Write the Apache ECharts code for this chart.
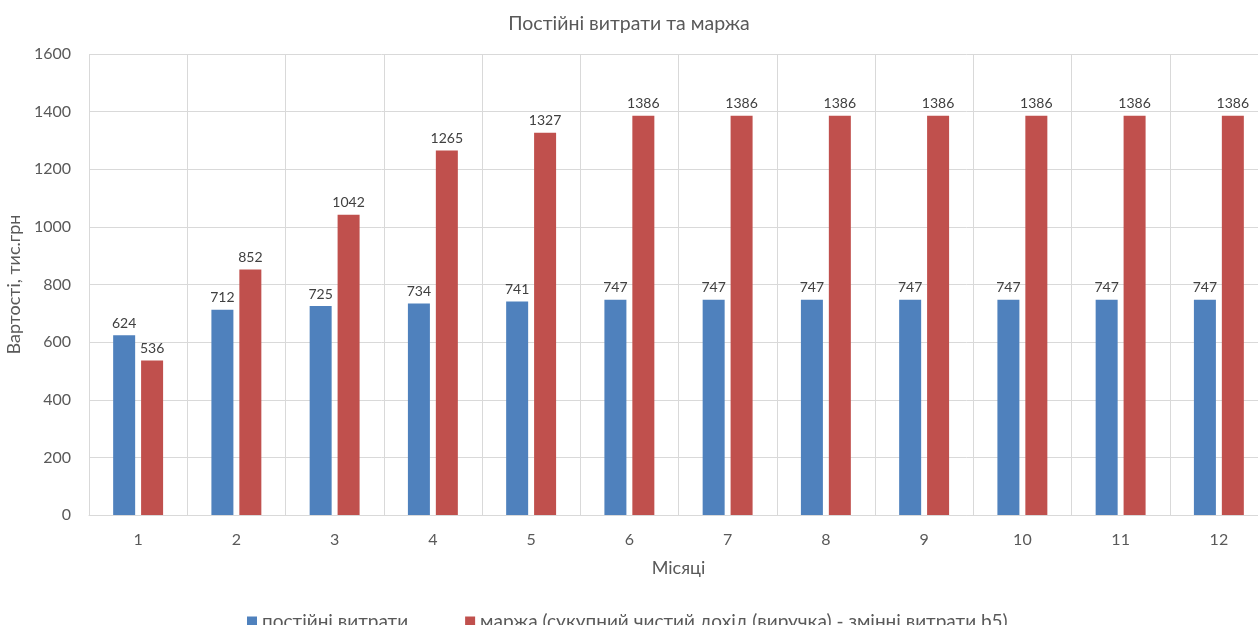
<!DOCTYPE html>
<html>
<head>
<meta charset="utf-8">
<script src="https://cdn.jsdelivr.net/npm/echarts@6/dist/echarts.min.js"></script>
<style>
  html, body { margin: 0; padding: 0; background: #fff; }
  #chart { width: 1258px; height: 625px; }
</style>
</head>
<body>
<div id="chart"></div>
<script>
// місяці
const months = ["1", "2", "3", "4", "5", "6", "7", "8", "9", "10", "11", "12"];
// постійні витрати
const fixedCosts = [624, 712, 725, 734, 741, 747, 747, 747, 747, 747, 747, 747];
// маржа
const margin = [536, 852, 1042, 1265, 1327, 1386, 1386, 1386, 1386, 1386, 1386, 1386];

const fontFamily = "Lato, 'Noto Sans', sans-serif";
const grey = "#595959";
const gridColor = "#d9d9d9";

const chart = echarts.init(document.getElementById("chart"));
const option = {
  animation: false,
  textStyle: { fontFamily: fontFamily },
  title: {
    text: "Постійні витрати та маржа",
    left: "center",
    top: 9,
    textStyle: { color: grey, fontSize: 19.5, fontWeight: "normal", fontFamily: fontFamily }
  },
  legend: {
    data: ["постійні витрати", "маржа (сукупний чистий дохід (виручка) - змінні витрати b5)"],
    left: 242,
    top: 607,
    itemWidth: 10,
    itemHeight: 10,
    itemGap: 57,
    icon: "rect",
    textStyle: { color: grey, fontSize: 19, fontFamily: fontFamily }
  },
  // права межа виходить за край картинки, як в оригіналі
  grid: { left: 89, top: 54, width: 1179, height: 461, outerBoundsMode: "none" },
  xAxis: {
    type: "category",
    data: months,
    name: "Місяці",
    nameLocation: "middle",
    nameGap: 44,
    nameTextStyle: { color: grey, fontSize: 18 },
    axisLine: { lineStyle: { color: gridColor } },
    axisTick: { show: false },
    axisLabel: { color: grey, fontSize: 16, margin: 17 },
    splitLine: { show: true, lineStyle: { color: gridColor } }
  },
  yAxis: {
    type: "value",
    min: 0,
    max: 1600,
    interval: 200,
    name: "Вартості, тис.грн",
    nameLocation: "middle",
    nameGap: 62,
    nameTextStyle: { color: grey, fontSize: 18 },
    axisLine: { show: false },
    axisTick: { show: false },
    axisLabel: { color: grey, fontSize: 16, margin: 18, formatter: v => String(v) },
    splitLine: { lineStyle: { color: gridColor } }
  },
  series: [{
    name: "постійні витрати",
    type: "bar",
    data: fixedCosts,
    barWidth: 22,
    barGap: "27%",
    itemStyle: { color: "#4F81BD" },
    label: { show: true, position: "top", color: "#404040", fontSize: 14, distance: 5 }
  }, {
    name: "маржа (сукупний чистий дохід (виручка) - змінні витрати b5)",
    type: "bar",
    data: margin,
    barWidth: 22,
    itemStyle: { color: "#C0504D" },
    label: { show: true, position: "top", color: "#404040", fontSize: 14, distance: 5 }
  }]
};
chart.setOption(option);
</script>
</body>
</html>
